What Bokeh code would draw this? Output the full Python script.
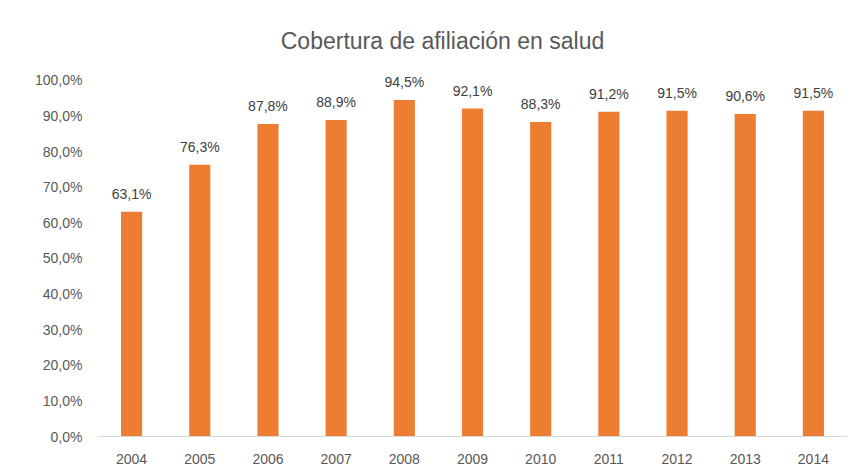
from bokeh.plotting import figure
from bokeh.models import ColumnDataSource, FactorRange, Range1d, FixedTicker, Label, LabelSet
from bokeh.core.properties import value
from bokeh.embed import file_html
from bokeh.resources import INLINE

years = ["2004", "2005", "2006", "2007", "2008", "2009", "2010", "2011", "2012", "2013", "2014"]
coverage = [63.1, 76.3, 87.8, 88.9, 94.5, 92.1, 88.3, 91.2, 91.5, 90.6, 91.5]
y_ticks = [0, 10, 20, 30, 40, 50, 60, 70, 80, 90, 100]
title_text = "Cobertura de afiliación en salud"

def pct(v):
    return f"{v:.1f}".replace(".", ",") + "%"

src = ColumnDataSource(dict(year=years, value=coverage, label=[pct(v) for v in coverage]))

FONT = "Liberation Sans"
GREY = "#595959"

p = figure(width=858, height=468, output_backend="svg", toolbar_location=None,
           x_range=FactorRange(*years), y_range=Range1d(0, 116),
           min_border_left=97, min_border_right=11, min_border_top=23, min_border_bottom=32)
p.outline_line_color = None
p.background_fill_color = "white"
p.border_fill_color = "white"
p.xgrid.visible = False
p.ygrid.visible = False

p.vbar(x="year", top="value", width=0.31, source=src, color="#ED7D31", line_color=None)

labels = LabelSet(x="year", y="value", text="label", source=src, text_align="center",
                  text_baseline="bottom", y_offset=10, text_font=value(FONT),
                  text_font_size=value("14px"), text_color="#404040")
p.add_layout(labels)

p.yaxis.ticker = FixedTicker(ticks=y_ticks)
p.yaxis.major_label_overrides = {t: pct(t) for t in y_ticks}
p.yaxis.axis_line_color = None
p.yaxis.major_tick_line_color = None
p.yaxis.minor_tick_line_color = None
p.yaxis.major_label_standoff = 9
p.yaxis.major_label_text_font = FONT
p.yaxis.major_label_text_font_size = "14px"
p.yaxis.major_label_text_color = GREY

p.xaxis.axis_line_color = "#d9d9d9"
p.xaxis.major_tick_line_color = None
p.xaxis.minor_tick_line_color = None
p.xaxis.major_label_standoff = 11
p.xaxis.major_label_text_font = FONT
p.xaxis.major_label_text_font_size = "14px"
p.xaxis.major_label_text_color = GREY

title = Label(x=345, y=396, x_units="screen", y_units="screen", text=title_text,
              text_align="center", text_baseline="middle", text_font=FONT,
              text_font_size="23px", text_color=GREY)
p.add_layout(title)

open("out.html", "w").write(file_html(p, INLINE))
